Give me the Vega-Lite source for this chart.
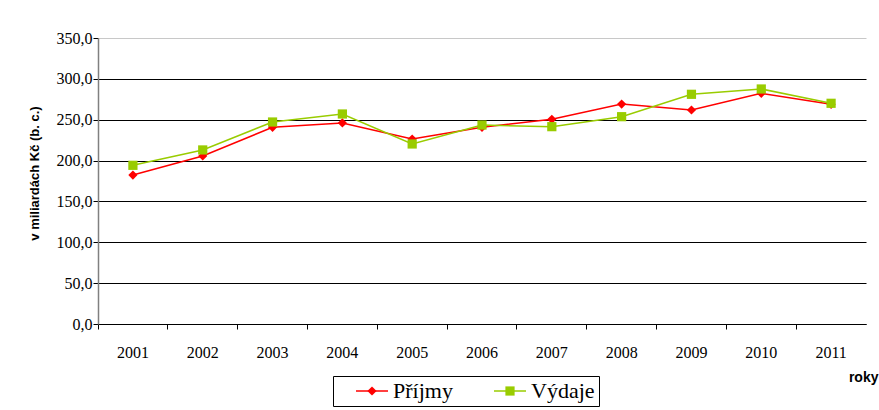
{
  "$schema": "https://vega.github.io/schema/vega-lite/v6.json",
  "width": 768,
  "height": 286,
  "autosize": {"type": "none"},
  "padding": {"left": 98, "top": 38, "right": 13, "bottom": 86},
  "background": "white",
  "config": {
    "view": {"stroke": null},
    "locale": {"number": {"decimal": ",", "thousands": " ", "grouping": [3], "currency": ["", " Kč"]}}
  },
  "data": {
    "values": [
      {"rok": "2001", "typ": "Příjmy", "hodnota": 182.3},
      {"rok": "2002", "typ": "Příjmy", "hodnota": 205.6},
      {"rok": "2003", "typ": "Příjmy", "hodnota": 240.7},
      {"rok": "2004", "typ": "Příjmy", "hodnota": 246.0},
      {"rok": "2005", "typ": "Příjmy", "hodnota": 226.4},
      {"rok": "2006", "typ": "Příjmy", "hodnota": 240.7},
      {"rok": "2007", "typ": "Příjmy", "hodnota": 250.5},
      {"rok": "2008", "typ": "Příjmy", "hodnota": 269.2},
      {"rok": "2009", "typ": "Příjmy", "hodnota": 261.9},
      {"rok": "2010", "typ": "Příjmy", "hodnota": 282.3},
      {"rok": "2011", "typ": "Příjmy", "hodnota": 268.9},
      {"rok": "2001", "typ": "Výdaje", "hodnota": 194.2},
      {"rok": "2002", "typ": "Výdaje", "hodnota": 213.0},
      {"rok": "2003", "typ": "Výdaje", "hodnota": 247.2},
      {"rok": "2004", "typ": "Výdaje", "hodnota": 257.0},
      {"rok": "2005", "typ": "Výdaje", "hodnota": 220.3},
      {"rok": "2006", "typ": "Výdaje", "hodnota": 243.5},
      {"rok": "2007", "typ": "Výdaje", "hodnota": 241.5},
      {"rok": "2008", "typ": "Výdaje", "hodnota": 253.7},
      {"rok": "2009", "typ": "Výdaje", "hodnota": 281.1},
      {"rok": "2010", "typ": "Výdaje", "hodnota": 287.6},
      {"rok": "2011", "typ": "Výdaje", "hodnota": 270.1}
    ]
  },
  "encoding": {
    "x": {
      "field": "rok",
      "type": "ordinal",
      "scale": {"type": "band", "paddingInner": 0, "paddingOuter": 0},
      "axis": {
        "title": "roky",
        "titleFont": "Liberation Sans",
        "titleFontSize": 14,
        "titleFontWeight": "bold",
        "titleColor": "black",
        "titleX": 780,
        "titleY": 53,
        "titleAlign": "right",
        "titleBaseline": "middle",
        "labelAngle": 0,
        "labelFont": "Liberation Serif",
        "labelFontSize": 16,
        "labelColor": "black",
        "labelPadding": 15,
        "bandPosition": 0,
        "tickSize": 5,
        "tickColor": "black",
        "domainColor": "black",
        "grid": false
      }
    },
    "y": {
      "field": "hodnota",
      "type": "quantitative",
      "scale": {"domain": [0, 350], "nice": false},
      "axis": {
        "title": "v miliardách Kč (b. c.)",
        "titleFont": "Liberation Sans",
        "titleFontSize": 13,
        "titleFontWeight": "bold",
        "titleColor": "black",
        "titleAngle": -90,
        "titleX": -64,
        "titleY": 135,
        "titleAlign": "center",
        "titleBaseline": "middle",
        "values": [0, 50, 100, 150, 200, 250, 300, 350],
        "format": ".1f",
        "labelFont": "Liberation Serif",
        "labelFontSize": 16,
        "labelColor": "black",
        "labelPadding": 1,
        "tickSize": 5,
        "tickColor": "black",
        "domainColor": "#808080",
        "domainWidth": 1.5,
        "grid": true,
        "gridWidth": 1,
        "gridOpacity": 1,
        "gridColor": {"condition": {"test": "datum.value == 350", "value": "#c8c8c8"}, "value": "black"}
      }
    }
  },
  "layer": [
    {
      "mark": {"type": "line", "strokeWidth": 1.5},
      "encoding": {
        "stroke": {
          "field": "typ",
          "type": "nominal",
          "scale": {"domain": ["Příjmy", "Výdaje"], "range": ["#FF0000", "#99CC00"]},
          "legend": {
            "orient": "none",
            "legendX": 235,
            "legendY": 332,
            "direction": "horizontal",
            "title": null,
            "padding": 4,
            "symbolType": "stroke",
            "symbolSize": 1024,
            "symbolStrokeWidth": 1.5,
            "labelFont": "Liberation Serif",
            "labelFontSize": 22,
            "labelColor": "transparent",
            "labelOffset": 4,
            "symbolOffset": 18,
            "columnPadding": 22
          }
        }
      }
    },
    {
      "mark": {"type": "point", "filled": true, "opacity": 1, "size": 85, "strokeWidth": 0},
      "encoding": {
        "fill": {
          "field": "typ",
          "type": "nominal",
          "scale": {"range": ["#FF0000", "#99CC00"]},
          "legend": {
            "orient": "none",
            "legendX": 235,
            "legendY": 338,
            "direction": "horizontal",
            "title": null,
            "strokeColor": "black",
            "padding": 4,
            "symbolSize": 85,
            "symbolStrokeWidth": 0,
            "labelFont": "Liberation Serif",
            "labelFontSize": 22,
            "labelColor": "black",
            "labelOffset": 10,
            "symbolOffset": 24,
            "columnPadding": 22
          }
        },
        "shape": {
          "field": "typ",
          "type": "nominal",
          "scale": {"range": ["diamond", "square"]},
          "legend": {
            "orient": "none",
            "legendX": 235,
            "legendY": 338,
            "direction": "horizontal",
            "title": null,
            "strokeColor": "black",
            "padding": 4,
            "symbolSize": 85,
            "symbolStrokeWidth": 0,
            "labelFont": "Liberation Serif",
            "labelFontSize": 22,
            "labelColor": "black",
            "labelOffset": 10,
            "symbolOffset": 24,
            "columnPadding": 22
          }
        }
      }
    }
  ]
}
